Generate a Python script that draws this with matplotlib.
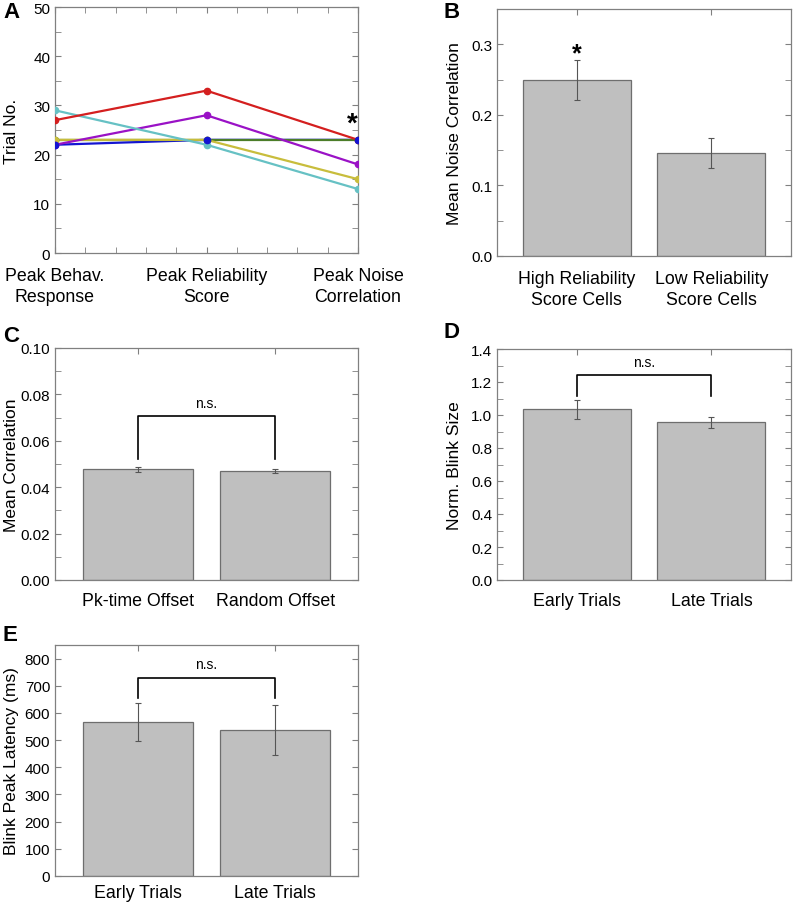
import matplotlib
matplotlib.use("Agg")
import matplotlib.pyplot as plt
from matplotlib.ticker import MultipleLocator

plt.rcParams['font.family'] = ['Liberation Sans', 'DejaVu Sans']

# Panel A: trial number of peak for each animal
a_stages = [1, 2, 3]
a_labels = ['Peak Behav.\nResponse', 'Peak Reliability\nScore', 'Peak Noise\nCorrelation']
a_green = [23, 23, 23]
a_yellow = [23, 23, 15]
a_purple = [22, 28, 18]
a_cyan = [29, 22, 13]
a_red = [27, 33, 23]
a_blue = [22, 23, 23]

# Panel B
b_labels = ['High Reliability\nScore Cells', 'Low Reliability\nScore Cells']
b_means = [0.249, 0.1455]
b_err = [0.0285, 0.0212]

# Panel C
c_labels = ['Pk-time Offset', 'Random Offset']
c_means = [0.0478, 0.0471]
c_err = [0.0011, 0.0009]

# Panel D
d_labels = ['Early Trials', 'Late Trials']
d_means = [1.035, 0.955]
d_err = [0.058, 0.032]

# Panel E
e_labels = ['Early Trials', 'Late Trials']
e_means = [565, 538]
e_err = [70, 93]

W, H = 794, 903
fig = plt.figure(figsize=(W / 100, H / 100), dpi=100)


def px_axes(l, t, r, b):
    ax = fig.add_axes([l / W, 1 - b / H, (r - l) / W, (b - t) / H])
    ax._px = (l, r)
    return ax


EDGE = '#808080'


def style(ax, pad=10):
    for s in ax.spines.values():
        s.set_color(EDGE)
        s.set_linewidth(0.9)
    ax.tick_params(which='both', direction='in', top=True, right=True,
                   color=EDGE, labelcolor='black', labelsize=11, length=4)
    ax.tick_params(axis='x', labelsize=12.8, pad=pad)
    for t in ax.get_xticklabels():
        t.set_linespacing(1.35)


def set_ylab(ax, text, x_px):
    l, r = ax._px
    ax.set_ylabel(text, fontsize=12.5, va='center')
    ax.yaxis.set_label_coords((x_px - l) / (r - l), 0.5)


def bar_panel(ax, labels, means, err, ylim, major, minor, ylabel, fmt, lab_x, pad):
    x = [1, 2]
    ax.bar(x, means, width=0.8, color='#bfbfbf', edgecolor='#6e6e6e', linewidth=0.9, zorder=2)
    ax.errorbar(x, means, yerr=err, fmt='none', ecolor='#555555', elinewidth=0.8,
                capsize=2, capthick=0.8, zorder=3)
    ax.set_xlim(0.4, 2.6)
    ax.set_ylim(*ylim)
    ax.set_xticks(x)
    ax.set_xticklabels(labels)
    ax.yaxis.set_major_locator(MultipleLocator(major))
    if minor:
        ax.yaxis.set_minor_locator(MultipleLocator(minor))
    ax.yaxis.set_major_formatter(plt.FormatStrFormatter(fmt))
    style(ax, pad)
    set_ylab(ax, ylabel, lab_x)


def bracket(ax, low, high, text_y):
    ax.plot([1, 1, 2, 2], [low, high, high, low], color='black', lw=1.2, zorder=4)
    ax.text(1.5, text_y, 'n.s.', ha='center', va='center', fontsize=10)


# ---- A ----
axA = px_axes(55, 8, 358, 254)
series = [(a_blue, '#1414d2'), (a_green, '#4b7d28'), (a_yellow, '#c8bd3c'),
          (a_purple, '#9a12c6'), (a_cyan, '#66c1c4'), (a_red, '#d41f1f')]
for vals, col in series:
    axA.plot(a_stages, vals, color=col, lw=1.6, zorder=2)
for vals, col in series[1:] + series[:1]:
    axA.plot(a_stages, vals, 'o', color=col, ms=4.5, zorder=3)
axA.set_xlim(1, 3)
axA.set_ylim(0, 50)
axA.set_xticks(a_stages)
axA.set_xticklabels(a_labels)
axA.xaxis.set_minor_locator(MultipleLocator(0.2))
axA.yaxis.set_major_locator(MultipleLocator(10))
axA.yaxis.set_minor_locator(MultipleLocator(5))
style(axA, 10)
set_ylab(axA, 'Trial No.', 12)
axA.text(2.96, 26.2, '*', ha='center', va='center', fontsize=20, fontweight='bold')

# ---- B ----
axB = px_axes(497, 10, 791, 257)
bar_panel(axB, b_labels, b_means, b_err, (0, 0.35), 0.1, 0.05,
          'Mean Noise Correlation', '%.1f', 455, 10)
axB.set_xlim(0.41, 2.59)
axB.text(1, 0.287, '*', ha='center', va='center', fontsize=18, fontweight='bold')

# ---- C ----
axC = px_axes(55, 349, 358, 581)
bar_panel(axC, c_labels, c_means, c_err, (0, 0.1), 0.02, 0.01,
          'Mean Correlation', '%.2f', 12, 8.5)
bracket(axC, 0.052, 0.0706, 0.0765)

# ---- D ----
axD = px_axes(497, 350, 791, 581)
bar_panel(axD, d_labels, d_means, d_err, (0, 1.4), 0.2, 0.1,
          'Norm. Blink Size', '%.1f', 455, 8.5)
axD.set_xlim(0.41, 2.59)
bracket(axD, 1.117, 1.242, 1.32)

# ---- E ----
axE = px_axes(55, 646, 358, 877)
bar_panel(axE, e_labels, e_means, e_err, (0, 850), 100, None,
          'Blink Peak Latency (ms)', '%d', 12, 6)
bracket(axE, 654, 729, 780)

# panel letters
for lx, ly, letter in [(3, 13, 'A'), (443, 12, 'B'), (3, 337, 'C'), (443, 333, 'D'), (3, 636, 'E')]:
    fig.text(lx / W, 1 - ly / H, letter, fontsize=16, fontweight='bold', ha='left', va='center')

fig.savefig('out.png', dpi=100)
